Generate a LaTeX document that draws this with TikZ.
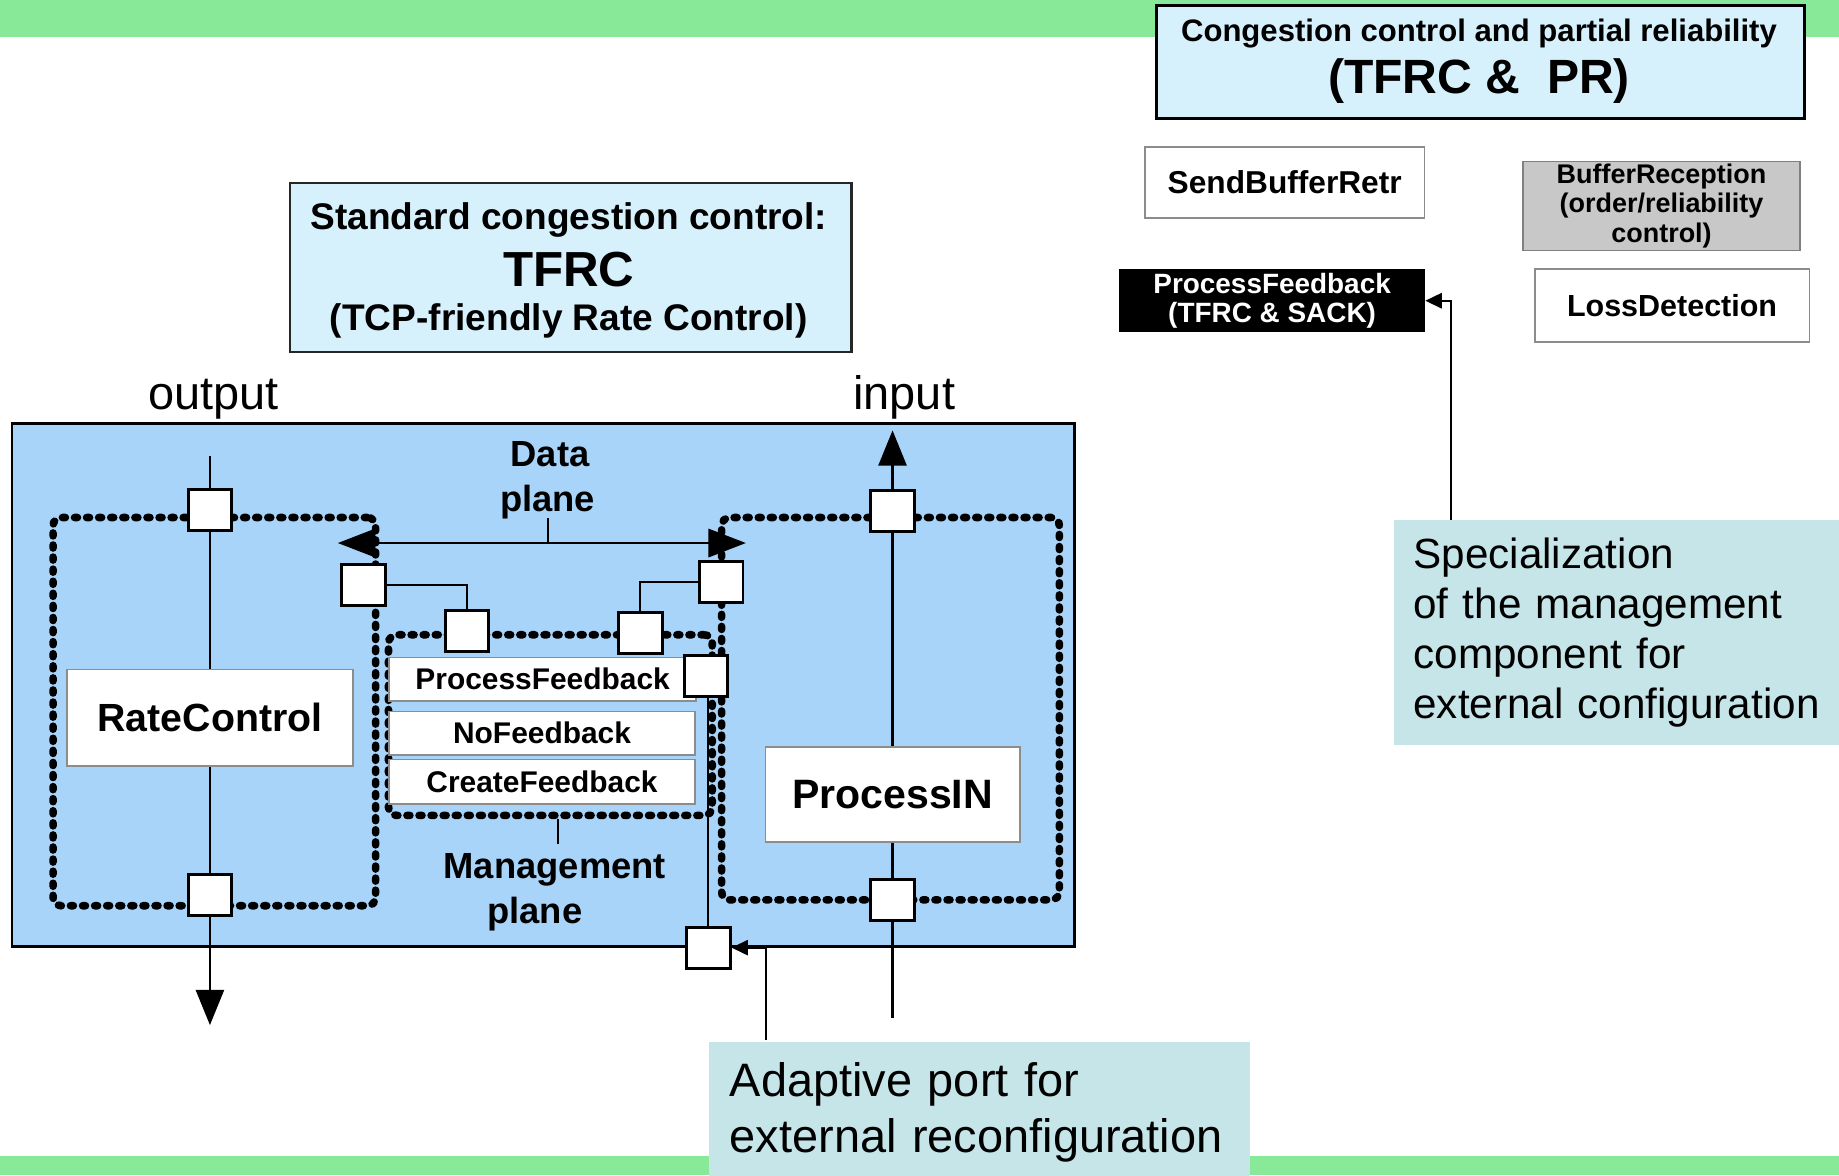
\documentclass[tikz,border=0pt]{standalone}
\usepackage{fontspec}
\setmainfont{Liberation Sans}
\usetikzlibrary{arrows.meta,calc}

\definecolor{bandgreen}{RGB}{136,234,152}
\definecolor{panelblue}{RGB}{168,212,250}
\definecolor{paleblue}{RGB}{214,240,252}
\definecolor{notecyan}{RGB}{198,229,233}
\definecolor{boxgray}{RGB}{200,200,200}
\definecolor{edgegray}{RGB}{140,140,140}

\pgfdeclarelayer{bg}
\pgfdeclarelayer{wires}
\pgfsetlayers{bg,wires,main}

\newcommand\setfs[2]{\fontsize{#1}{#2}\selectfont}

\begin{document}
\begin{tikzpicture}[x=1pt,y=-1pt,
  box/.style={draw=edgegray, line width=1.3pt, fill=white, inner sep=0pt, anchor=north west},
  cbox/.style={draw=edgegray, line width=1.3pt, fill=white, inner sep=0pt},
  port/.style={draw, line width=2.5pt, fill=white, minimum width=37pt, minimum height=35pt, inner sep=0pt},
  dotbox/.style={draw, line width=6.5pt, dash pattern=on 2.5pt off 7.8pt, line cap=round,
                 rounded corners=7pt, inner sep=0pt, anchor=north west},
  wire/.style={line width=1.8pt},
  bigtip/.style={-{Triangle[length=30pt,width=24pt]}},
  smalltip/.style={-{Triangle[length=14pt,width=13pt]}},
  note/.style={fill=notecyan, inner ysep=0pt, anchor=north west, align=left},
  lbl/.style={anchor=base, inner sep=0pt},
]
\clip (0,0) rectangle (1568,1002);

% ---------- background: bands and component panel ----------
\begin{pgfonlayer}{bg}
  \fill[bandgreen] (0,0) rectangle (1568,31.3);
  \fill[bandgreen] (0,985.7) rectangle (1568,1002);
  \node[draw, line width=2.5pt, fill=panelblue, anchor=north west, inner sep=0pt,
        minimum width=906pt, minimum height=446pt] (panel) at (9,360) {};
\end{pgfonlayer}

% ---------- TFRC & PR specialisation (top right) ----------
\node[draw, line width=2.5pt, fill=paleblue, anchor=north west, inner sep=0pt,
      minimum width=552pt, minimum height=96pt] (trbox) at (985,3.5) {};
\node[lbl, font=\bfseries\setfs{26.5}{30}] (trtitle) at (1261,35.5) {Congestion control and partial reliability};
\node[lbl, font=\bfseries\setfs{41}{44}] (trname) at (1261,80) {(TFRC \&\ \ PR)};

\node[box, minimum width=238.5pt, minimum height=60.5pt, font=\bfseries\setfs{27}{30}]
  (sbr) at (975.5,124.5) {SendBufferRetr};
\node[box, fill=boxgray, draw=gray, minimum width=236pt, minimum height=76pt, align=center,
      font=\bfseries\setfs{23}{25.5}]
  (brc) at (1298,137) {BufferReception\\(order/reliability\\control)};
\node[box, draw=black, fill=black, text=white, minimum width=260pt, minimum height=52.5pt,
      align=center, font=\bfseries\setfs{23.8}{25}]
  (pfb) at (954,229.5) {ProcessFeedback\\(TFRC \& SACK)};
\node[box, minimum width=234pt, minimum height=62.5pt, font=\bfseries\setfs{26}{30}]
  (ld) at (1308,228.5) {LossDetection};

\node[note, text width=360pt, inner xsep=17pt, minimum height=192pt, font=\setfs{36}{42.5}]
  (spnote) at (1188,443) {Specialization\\of the management\\component for\\external configuration};

% ---------- standard TFRC description ----------
\node[draw=black!85, line width=2pt, fill=paleblue, anchor=north west, inner sep=0pt,
      minimum width=479pt, minimum height=144pt] (std) at (246,155) {};
\node[lbl, font=\bfseries\setfs{31.6}{36}] (stdl1) at (485,196) {Standard congestion control:};
\node[lbl, font=\bfseries\setfs{42}{46}] (stdl2) at (485,244) {TFRC};
\node[lbl, font=\bfseries\setfs{31.6}{36}] (stdl3) at (485,282) {(TCP-friendly Rate Control)};

\node[lbl, font=\setfs{40}{44}] (outlbl) at (182,349) {output};
\node[lbl, font=\setfs{40}{44}] (inlbl) at (771,349) {input};

% ---------- planes (dotted outlines) ----------
\begin{pgfonlayer}{wires}
  \node[dotbox, minimum width=275pt, minimum height=331pt] (dpL) at (42,438) {};
  \node[dotbox, minimum width=288pt, minimum height=326pt] (dpR) at (612,438) {};
  \node[dotbox, minimum width=276pt, minimum height=154pt] (mgmt) at (328,538) {};
\end{pgfonlayer}

% ---------- components ----------
\node[cbox, minimum width=244pt, minimum height=82pt, font=\bfseries\setfs{33.5}{38}]
  (rate) at (179,612) {RateControl};
\node[cbox, minimum width=217pt, minimum height=81pt, font=\bfseries\setfs{35}{40}]
  (pin) at (761,677.5) {ProcessIN};

\node[box, minimum width=262pt, minimum height=37pt, font=\bfseries\setfs{25.5}{28}]
  (pfm) at (331,560) {ProcessFeedback};
\node[box, minimum width=261pt, minimum height=37pt, font=\bfseries\setfs{25.5}{28}]
  (nfm) at (331,606) {NoFeedback};
\node[box, minimum width=261pt, minimum height=38pt, font=\bfseries\setfs{25.5}{28}]
  (cfm) at (331,647) {CreateFeedback};

% ---------- ports ----------
\node[port] (lt) at (179,435) {};
\node[port] (lb) at (179,763) {};
\node[port] (rt) at (761,436) {};
\node[port] (rb) at (761,767) {};
\node[port] (dl) at (310,499) {};
\node[port] (dr) at (615,496) {};
\node[port] (ml) at (398,538) {};
\node[port] (mr) at (546,540) {};
\node[port] (pfp) at (602,576) {};
\node[port] (ap) at (604,808) {};

% ---------- plane labels ----------
\node[lbl, font=\bfseries\setfs{31}{36}] (datal1) at (469,398) {Data};
\node[lbl, font=\bfseries\setfs{31}{36}] (datal2) at (467,436.5) {plane};
\node[lbl, font=\bfseries\setfs{31}{36}] (mgmtl1) at (473,749) {Management};
\node[lbl, font=\bfseries\setfs{31}{36}] (mgmtl2) at (456,787) {plane};

\node[note, text width=426pt, inner xsep=18pt, inner ysep=17.5pt, font=\setfs{40}{48}]
  (adnote) at (604,888) {Adaptive port for\\external reconfiguration};

% ---------- connectors ----------
\coordinate (outsrc) at (179,389);
\coordinate (outsink) at (179,874);
\coordinate (insrc) at (761,868);
\coordinate (insink) at (761,367);
\coordinate (dpl) at (288,463);
\coordinate (dpr) at (636,463);
\coordinate (dptick) at (467,442);
\coordinate (mtick) at (476,720);
\coordinate (adtail) at (653,887);
\coordinate (sptail) at (1237,443);

\begin{pgfonlayer}{wires}
  \draw[wire, bigtip] (outsrc) -- (lt) -- (rate) -- (lb) -- (outsink);
  \draw[wire, bigtip] (insrc) -- (rb) -- (pin) -- (rt) -- (insink);
  \draw[line width=2.5pt, {Triangle[length=32pt,width=24pt]}-{Triangle[length=32pt,width=24pt]}]
    (dpl) -- (dpr);
  \draw[wire] (dptick) -- (dptick |- dpl);
  \draw[wire] (dl.east) -| (ml.north);
  \draw[wire] (dr.west) -| (mr.north);
  \draw[wire] (pfp.south -| ap) -- (ap.north);
  \draw[wire] (mgmt.south -| mtick) -- (mtick);
  \draw[wire, smalltip] (adtail) |- (ap.east);
  \draw[wire, smalltip] (sptail) |- (pfb.east);
\end{pgfonlayer}
\end{tikzpicture}
\end{document}
